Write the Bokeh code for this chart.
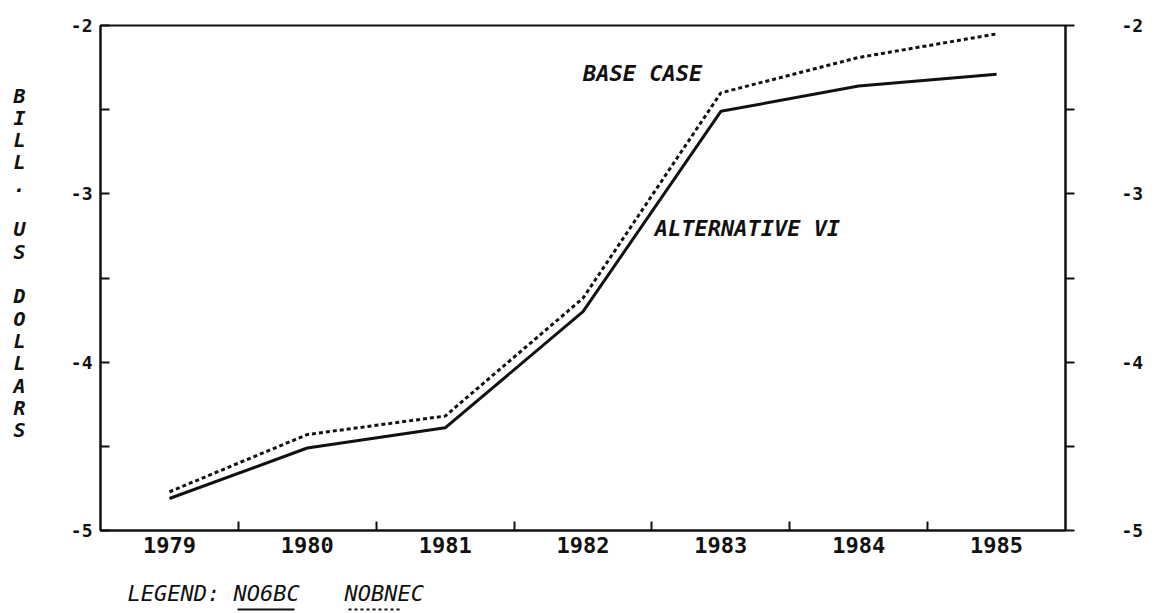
from bokeh.plotting import figure
from bokeh.models import Range1d, LinearAxis, FixedTicker, Label
from bokeh.layouts import column
from bokeh.embed import file_html
from bokeh.resources import INLINE

# ---- data ----
years = [1979, 1980, 1981, 1982, 1983, 1984, 1985]
half_years = [1979.5, 1980.5, 1981.5, 1982.5, 1983.5, 1984.5]
no6bc = [-4.81, -4.51, -4.39, -3.70, -2.51, -2.36, -2.29]      # solid: ALTERNATIVE VI
nobnec = [-4.77, -4.43, -4.32, -3.62, -2.40, -2.19, -2.05]     # dotted: BASE CASE
y_ticks = [-5, -4, -3, -2]
y_minor = [-4.5, -3.5, -2.5]
y_labels = ["-5", "-4", "-3", "-2"]
title_letters = ["B", "I", "L", "L", ".", "U", "S", "D", "O", "L", "L", "A", "R", "S"]
title_rows = [0, 1, 2, 3, 4, 6, 7, 9, 10, 11, 12, 13, 14, 15]
legend_names = ["NO6BC", "NOBNEC"]

FONT = "DejaVu Sans Mono"
INK = "#111111"
W = 1166
H_MAIN = 565
H_LEG = 48
ML, MR = 100, 101

p = figure(width=W, height=H_MAIN, x_range=Range1d(1978.5, 1985.5),
           y_range=Range1d(-5, -2), output_backend="svg", toolbar_location=None,
           x_axis_type=None, y_axis_type=None,
           min_border_left=ML, min_border_right=MR, min_border_top=25,
           min_border_bottom=H_MAIN - 530)
p.outline_line_color = INK
p.outline_line_width = 2
p.background_fill_color = "white"
p.border_fill_color = "white"
p.extra_y_ranges = {"title": Range1d(start=19.5, end=-3.14)}

def style_axis(ax, size):
    ax.axis_line_color = INK
    ax.axis_line_width = 2
    ax.major_tick_line_color = INK
    ax.major_tick_line_width = 2
    ax.minor_tick_line_color = INK
    ax.minor_tick_line_width = 2
    ax.major_label_text_font = FONT
    ax.major_label_text_font_style = "bold"
    ax.major_label_text_font_size = size
    ax.major_label_text_color = INK

xax = LinearAxis(ticker=FixedTicker(ticks=years, minor_ticks=half_years),
                 major_tick_in=0, major_tick_out=0, minor_tick_in=9, minor_tick_out=0,
                 major_label_standoff=6)
style_axis(xax, "22px")
p.add_layout(xax, "below")

overrides = dict(zip(y_ticks, y_labels))
lax = LinearAxis(ticker=FixedTicker(ticks=y_ticks, minor_ticks=y_minor),
                 major_tick_in=9, major_tick_out=0, minor_tick_in=9, minor_tick_out=0,
                 major_label_standoff=8, major_label_overrides=overrides)
style_axis(lax, "18px")
p.add_layout(lax, "left")

tax = LinearAxis(y_range_name="title", ticker=FixedTicker(ticks=title_rows),
                 major_label_overrides=dict(zip(title_rows, title_letters)),
                 major_tick_in=0, major_tick_out=0, minor_tick_in=0, minor_tick_out=0,
                 major_label_standoff=42)
style_axis(tax, "20px")
tax.axis_line_color = None
tax.major_label_text_font_style = "bold italic"
p.add_layout(tax, "left")

rax = LinearAxis(ticker=FixedTicker(ticks=y_ticks, minor_ticks=y_minor),
                 major_tick_in=0, major_tick_out=9, minor_tick_in=0, minor_tick_out=9,
                 major_label_standoff=47, major_label_overrides=overrides)
style_axis(rax, "18px")
p.add_layout(rax, "right")

p.line(years, no6bc, line_color=INK, line_width=3)
p.line(years, nobnec, line_color=INK, line_width=3, line_dash="4 3")

for x, y, t in [(1982.0, -2.286, "BASE CASE"), (1982.52, -3.208, "ALTERNATIVE VI")]:
    p.add_layout(Label(x=x, y=y, text=t, text_font=FONT, text_font_size="22px",
                       text_font_style="bold italic", text_color=INK,
                       text_baseline="middle", text_align="left"))

# ---- legend strip (x in page pixels, y in pixels from strip top) ----
q = figure(width=W, height=H_LEG, x_range=Range1d(ML, W - MR), y_range=Range1d(H_LEG, 0),
           output_backend="svg", toolbar_location=None, x_axis_type=None, y_axis_type=None,
           min_border_left=ML, min_border_right=MR, min_border_top=0, min_border_bottom=0)
q.outline_line_color = None
q.grid.visible = False
q.background_fill_color = "white"
q.border_fill_color = "white"
for x, t in [(127, "LEGEND:"), (233, legend_names[0]), (344, legend_names[1])]:
    q.add_layout(Label(x=x, y=28, text=t, text_font=FONT, text_font_size="22px",
                       text_font_style="italic", text_color=INK,
                       text_baseline="middle", text_align="left"))
q.line([237, 294], [44, 44], line_color=INK, line_width=2)
q.line([348, 399], [44, 44], line_color=INK, line_width=2, line_dash="3 3")

layout = column(p, q, spacing=0)
open("out.html", "w").write(file_html(layout, INLINE))
